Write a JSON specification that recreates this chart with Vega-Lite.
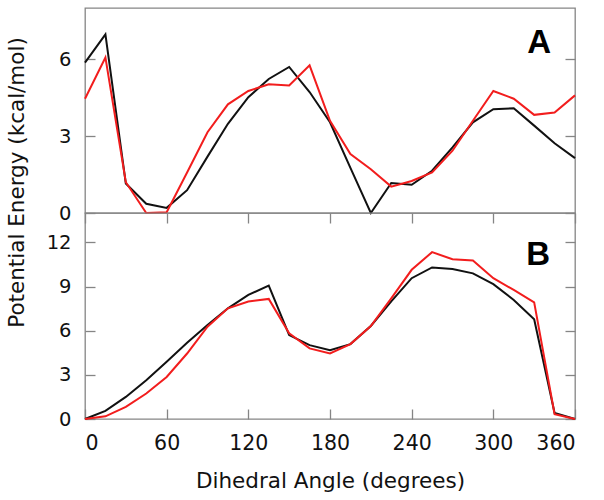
{
  "$schema": "https://vega.github.io/schema/vega-lite/v6.json",
  "padding": {"top": 7, "left": 5, "right": 10, "bottom": 5},
  "background": "white",
  "config": {
    "font": "DejaVu Sans",
    "view": {"stroke": "#858585", "strokeWidth": 1.3},
    "axis": {"grid": false, "domain": false, "tickColor": "#858585", "tickSize": -10, "tickWidth": 1.3, "labelFontSize": 19.5, "labelColor": "#111111", "labelPadding": 24, "titleFontSize": 21.5, "titleFontWeight": "normal", "titleColor": "#111111"}
  },
  "datasets": {
    "energy": [
      {"angle": 0, "panel": "A", "method": "QM", "energy": 5.87},
      {"angle": 15, "panel": "A", "method": "QM", "energy": 6.97},
      {"angle": 30, "panel": "A", "method": "QM", "energy": 1.15},
      {"angle": 45, "panel": "A", "method": "QM", "energy": 0.36},
      {"angle": 60, "panel": "A", "method": "QM", "energy": 0.2},
      {"angle": 75, "panel": "A", "method": "QM", "energy": 0.89},
      {"angle": 90, "panel": "A", "method": "QM", "energy": 2.2},
      {"angle": 105, "panel": "A", "method": "QM", "energy": 3.48},
      {"angle": 120, "panel": "A", "method": "QM", "energy": 4.52},
      {"angle": 135, "panel": "A", "method": "QM", "energy": 5.23},
      {"angle": 150, "panel": "A", "method": "QM", "energy": 5.7},
      {"angle": 165, "panel": "A", "method": "QM", "energy": 4.72},
      {"angle": 180, "panel": "A", "method": "QM", "energy": 3.54},
      {"angle": 195, "panel": "A", "method": "QM", "energy": 1.76},
      {"angle": 210, "panel": "A", "method": "QM", "energy": 0},
      {"angle": 225, "panel": "A", "method": "QM", "energy": 1.17},
      {"angle": 240, "panel": "A", "method": "QM", "energy": 1.1},
      {"angle": 255, "panel": "A", "method": "QM", "energy": 1.65},
      {"angle": 270, "panel": "A", "method": "QM", "energy": 2.56},
      {"angle": 285, "panel": "A", "method": "QM", "energy": 3.54},
      {"angle": 300, "panel": "A", "method": "QM", "energy": 4.05},
      {"angle": 315, "panel": "A", "method": "QM", "energy": 4.09},
      {"angle": 330, "panel": "A", "method": "QM", "energy": 3.41},
      {"angle": 345, "panel": "A", "method": "QM", "energy": 2.72},
      {"angle": 360, "panel": "A", "method": "QM", "energy": 2.14},
      {"angle": 0, "panel": "A", "method": "MM", "energy": 4.46},
      {"angle": 15, "panel": "A", "method": "MM", "energy": 6.07},
      {"angle": 30, "panel": "A", "method": "MM", "energy": 1.2},
      {"angle": 45, "panel": "A", "method": "MM", "energy": 0},
      {"angle": 60, "panel": "A", "method": "MM", "energy": 0.03},
      {"angle": 75, "panel": "A", "method": "MM", "energy": 1.58},
      {"angle": 90, "panel": "A", "method": "MM", "energy": 3.15},
      {"angle": 105, "panel": "A", "method": "MM", "energy": 4.24},
      {"angle": 120, "panel": "A", "method": "MM", "energy": 4.76},
      {"angle": 135, "panel": "A", "method": "MM", "energy": 5.02},
      {"angle": 150, "panel": "A", "method": "MM", "energy": 4.98},
      {"angle": 165, "panel": "A", "method": "MM", "energy": 5.76},
      {"angle": 180, "panel": "A", "method": "MM", "energy": 3.6},
      {"angle": 195, "panel": "A", "method": "MM", "energy": 2.3},
      {"angle": 210, "panel": "A", "method": "MM", "energy": 1.71},
      {"angle": 225, "panel": "A", "method": "MM", "energy": 1.03},
      {"angle": 240, "panel": "A", "method": "MM", "energy": 1.25},
      {"angle": 255, "panel": "A", "method": "MM", "energy": 1.58},
      {"angle": 270, "panel": "A", "method": "MM", "energy": 2.43},
      {"angle": 285, "panel": "A", "method": "MM", "energy": 3.6},
      {"angle": 300, "panel": "A", "method": "MM", "energy": 4.76},
      {"angle": 315, "panel": "A", "method": "MM", "energy": 4.46},
      {"angle": 330, "panel": "A", "method": "MM", "energy": 3.83},
      {"angle": 345, "panel": "A", "method": "MM", "energy": 3.92},
      {"angle": 360, "panel": "A", "method": "MM", "energy": 4.59},
      {"angle": 0, "panel": "B", "method": "QM", "energy": 0},
      {"angle": 15, "panel": "B", "method": "QM", "energy": 0.55},
      {"angle": 30, "panel": "B", "method": "QM", "energy": 1.5},
      {"angle": 45, "panel": "B", "method": "QM", "energy": 2.64},
      {"angle": 60, "panel": "B", "method": "QM", "energy": 3.89},
      {"angle": 75, "panel": "B", "method": "QM", "energy": 5.18},
      {"angle": 90, "panel": "B", "method": "QM", "energy": 6.39},
      {"angle": 105, "panel": "B", "method": "QM", "energy": 7.52},
      {"angle": 120, "panel": "B", "method": "QM", "energy": 8.43},
      {"angle": 135, "panel": "B", "method": "QM", "energy": 9.07},
      {"angle": 150, "panel": "B", "method": "QM", "energy": 5.7},
      {"angle": 165, "panel": "B", "method": "QM", "energy": 5.02},
      {"angle": 180, "panel": "B", "method": "QM", "energy": 4.68},
      {"angle": 195, "panel": "B", "method": "QM", "energy": 5.09},
      {"angle": 210, "panel": "B", "method": "QM", "energy": 6.32},
      {"angle": 225, "panel": "B", "method": "QM", "energy": 8.0},
      {"angle": 240, "panel": "B", "method": "QM", "energy": 9.57},
      {"angle": 255, "panel": "B", "method": "QM", "energy": 10.3},
      {"angle": 270, "panel": "B", "method": "QM", "energy": 10.2},
      {"angle": 285, "panel": "B", "method": "QM", "energy": 9.9},
      {"angle": 300, "panel": "B", "method": "QM", "energy": 9.16},
      {"angle": 315, "panel": "B", "method": "QM", "energy": 8.09},
      {"angle": 330, "panel": "B", "method": "QM", "energy": 6.77},
      {"angle": 345, "panel": "B", "method": "QM", "energy": 0.41},
      {"angle": 360, "panel": "B", "method": "QM", "energy": 0},
      {"angle": 0, "panel": "B", "method": "MM", "energy": 0},
      {"angle": 15, "panel": "B", "method": "MM", "energy": 0.18},
      {"angle": 30, "panel": "B", "method": "MM", "energy": 0.82},
      {"angle": 45, "panel": "B", "method": "MM", "energy": 1.73},
      {"angle": 60, "panel": "B", "method": "MM", "energy": 2.86},
      {"angle": 75, "panel": "B", "method": "MM", "energy": 4.45},
      {"angle": 90, "panel": "B", "method": "MM", "energy": 6.27},
      {"angle": 105, "panel": "B", "method": "MM", "energy": 7.52},
      {"angle": 120, "panel": "B", "method": "MM", "energy": 7.98},
      {"angle": 135, "panel": "B", "method": "MM", "energy": 8.16},
      {"angle": 150, "panel": "B", "method": "MM", "energy": 5.82},
      {"angle": 165, "panel": "B", "method": "MM", "energy": 4.8},
      {"angle": 180, "panel": "B", "method": "MM", "energy": 4.45},
      {"angle": 195, "panel": "B", "method": "MM", "energy": 5.09},
      {"angle": 210, "panel": "B", "method": "MM", "energy": 6.32},
      {"angle": 225, "panel": "B", "method": "MM", "energy": 8.2},
      {"angle": 240, "panel": "B", "method": "MM", "energy": 10.14},
      {"angle": 255, "panel": "B", "method": "MM", "energy": 11.34},
      {"angle": 270, "panel": "B", "method": "MM", "energy": 10.86},
      {"angle": 285, "panel": "B", "method": "MM", "energy": 10.77},
      {"angle": 300, "panel": "B", "method": "MM", "energy": 9.57},
      {"angle": 315, "panel": "B", "method": "MM", "energy": 8.77},
      {"angle": 330, "panel": "B", "method": "MM", "energy": 7.93},
      {"angle": 345, "panel": "B", "method": "MM", "energy": 0.32},
      {"angle": 360, "panel": "B", "method": "MM", "energy": 0}
    ]
  },
  "spacing": 0,
  "bounds": "flush",
  "vconcat": [
    {
      "width": 490,
      "height": 205,
      "layer": [
        {
          "data": {"name": "energy"},
          "transform": [{"filter": "datum.panel === 'A'"}],
          "mark": {"type": "line", "strokeWidth": 2},
          "encoding": {
            "x": {"field": "angle", "type": "quantitative", "scale": {"domain": [0, 360], "nice": false, "zero": false}, "axis": null},
            "y": {"field": "energy", "type": "quantitative", "scale": {"domain": [0, 8], "nice": false}, "axis": {"values": [0, 3, 6], "title": "Potential Energy (kcal/mol)", "titleX": -68, "titleY": 174, "titleBaseline": "middle"}},
            "color": {"field": "method", "type": "nominal", "scale": {"domain": ["QM", "MM"], "range": ["#111111", "#f21d1d"]}, "legend": null}
          }
        },
        {
          "data": {"values": [{"label": "A"}]},
          "mark": {"type": "text", "font": "Liberation Sans", "fontWeight": "bold", "fontSize": 33, "align": "center", "baseline": "alphabetic", "color": "#000000"},
          "encoding": {
            "x": {"datum": 333.6, "type": "quantitative", "axis": null},
            "y": {"datum": 6.24, "type": "quantitative", "axis": {"orient": "right", "values": [0, 3, 6], "labels": false, "title": null}},
            "text": {"field": "label", "type": "nominal"}
          }
        }
      ],
      "resolve": {"axis": {"y": "independent"}}
    },
    {
      "width": 490,
      "height": 206,
      "layer": [
        {
          "data": {"name": "energy"},
          "transform": [{"filter": "datum.panel === 'B'"}],
          "mark": {"type": "line", "strokeWidth": 2},
          "encoding": {
            "x": {"field": "angle", "type": "quantitative", "scale": {"domain": [0, 360], "nice": false, "zero": false}, "axis": {"values": [0, 60, 120, 180, 240, 300, 360], "title": "Dihedral Angle (degrees)", "labelFontSize": 20.5, "labelPadding": 24, "titlePadding": 17}},
            "y": {"field": "energy", "type": "quantitative", "scale": {"domain": [0, 14], "nice": false}, "axis": {"values": [0, 3, 6, 9, 12], "title": null}},
            "color": {"field": "method", "type": "nominal", "scale": {"domain": ["QM", "MM"], "range": ["#111111", "#f21d1d"]}, "legend": null}
          }
        },
        {
          "data": {"values": [{"label": "B"}]},
          "mark": {"type": "text", "font": "Liberation Sans", "fontWeight": "bold", "fontSize": 33, "align": "center", "baseline": "alphabetic", "color": "#000000"},
          "encoding": {
            "x": {"datum": 333, "type": "quantitative", "axis": {"orient": "top", "values": [0, 60, 120, 180, 240, 300, 360], "labels": false, "title": null}},
            "y": {"datum": 10.48, "type": "quantitative", "axis": {"orient": "right", "values": [0, 3, 6, 9, 12], "labels": false, "title": null}},
            "text": {"field": "label", "type": "nominal"}
          }
        }
      ],
      "resolve": {"axis": {"x": "independent", "y": "independent"}}
    }
  ]
}
